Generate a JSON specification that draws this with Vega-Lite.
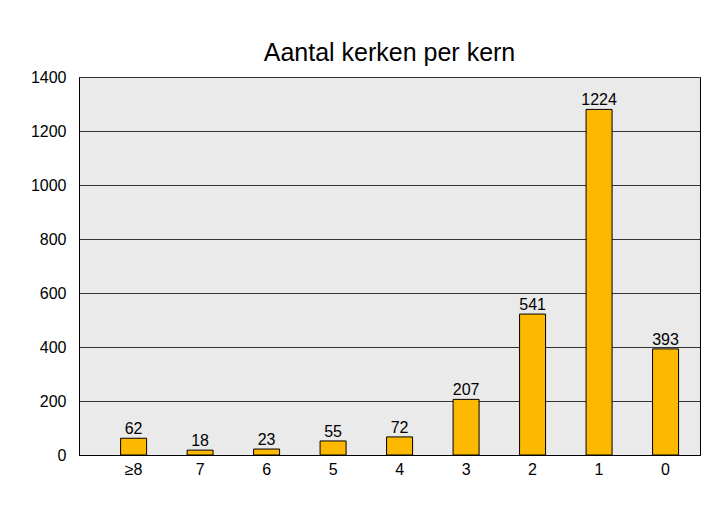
{
  "$schema": "https://vega.github.io/schema/vega-lite/v6.json",
  "autosize": "none",
  "width": 621,
  "height": 378,
  "padding": {"left": 79, "top": 77, "right": 19, "bottom": 59},
  "background": "white",
  "title": {
    "text": "Aantal kerken per kern",
    "font": "Liberation Sans",
    "fontSize": 25,
    "fontWeight": "normal",
    "color": "black",
    "offset": 3
  },
  "data": {
    "values": [
      {"kerken": "≥8", "hoogte": 62, "aantal": 62},
      {"kerken": "7", "hoogte": 18, "aantal": 18},
      {"kerken": "6", "hoogte": 22, "aantal": 23},
      {"kerken": "5", "hoogte": 52, "aantal": 55},
      {"kerken": "4", "hoogte": 67, "aantal": 72},
      {"kerken": "3", "hoogte": 206, "aantal": 207},
      {"kerken": "2", "hoogte": 522, "aantal": 541},
      {"kerken": "1", "hoogte": 1280, "aantal": 1224},
      {"kerken": "0", "hoogte": 393, "aantal": 393}
    ]
  },
  "encoding": {
    "x": {
      "field": "kerken",
      "type": "nominal",
      "sort": null,
      "scale": {"paddingInner": 0.609, "paddingOuter": 0.474, "align": 0.66},
      "axis": {
        "title": null,
        "labelAngle": 0,
        "ticks": false,
        "grid": false,
        "domainColor": "black",
        "labelPadding": 6,
        "labelFont": "Liberation Sans",
        "labelFontSize": 16,
        "labelColor": "black"
      }
    }
  },
  "layer": [
    {
      "mark": {"type": "bar", "fill": "#FCB900", "stroke": "black", "strokeWidth": 1},
      "encoding": {
        "y": {
          "field": "hoogte",
          "type": "quantitative",
          "scale": {"domain": [0, 1400], "nice": false},
          "axis": {
            "title": null,
            "values": [0, 200, 400, 600, 800, 1000, 1200, 1400],
            "format": "d",
            "grid": true,
            "gridColor": "#333333",
            "gridOpacity": 1,
            "ticks": false,
            "domainColor": "black",
            "labelPadding": 13,
            "labelFont": "Liberation Sans",
            "labelFontSize": 16,
            "labelColor": "black"
          }
        }
      }
    },
    {
      "mark": {"type": "text", "baseline": "alphabetic", "dy": -4, "font": "Liberation Sans", "fontSize": 16, "color": "black"},
      "encoding": {
        "y": {"field": "hoogte", "type": "quantitative"},
        "text": {"field": "aantal", "type": "quantitative"}
      }
    }
  ],
  "config": {
    "view": {"fill": "#EAEAEA", "stroke": "black", "strokeWidth": 1}
  }
}
